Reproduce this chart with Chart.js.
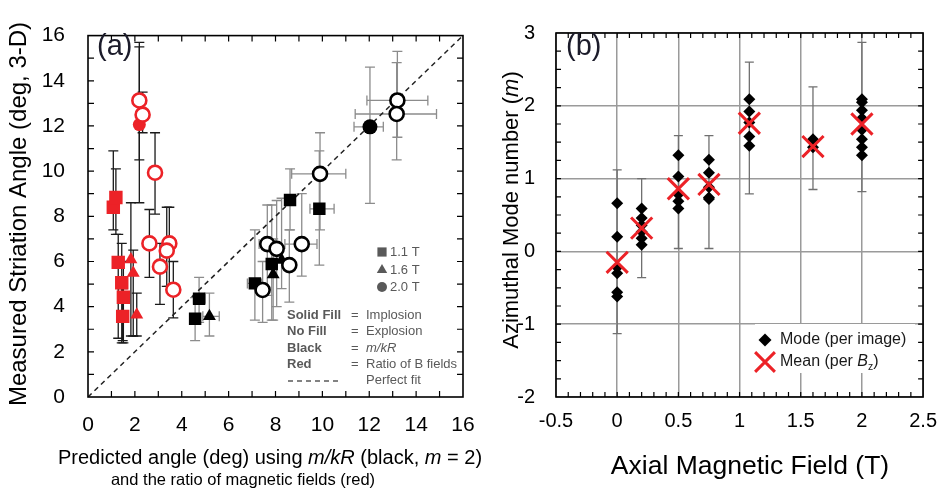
<!DOCTYPE html>
<html>
<head>
<meta charset="utf-8">
<script src="https://cdn.jsdelivr.net/npm/chart.js@4.4.1/dist/chart.umd.min.js"></script>
<style>
  html, body { margin: 0; padding: 0; background: #fff; }
  #wrap { position: relative; width: 949px; height: 491px; }
  #chartA { position: absolute; left: 0; top: 0; }
  #chartB { position: absolute; left: 480px; top: 0; }
</style>
</head>
<body>
<div id="wrap">
  <canvas id="chartA" width="495" height="491"></canvas>
  <canvas id="chartB" width="469" height="491"></canvas>
</div>
<script>
// ---- panel (a): measured vs predicted striation angle (deg) ----
// red = ratio of B fields, black = m/kR ; filled = implosion, open = explosion
const redSquares = [
  { x: 1.08, y: 8.40, yMin: 7.4, yMax: 10.9 },
  { x: 1.19, y: 8.83, yMin: 7.2, yMax: 10.1 },
  { x: 1.29, y: 5.96, yMin: 2.6, yMax: 7.2 },
  { x: 1.44, y: 5.06, yMin: 2.4, yMax: 6.8 },
  { x: 1.51, y: 4.42, yMin: 2.4, yMax: 6.0 },
  { x: 1.48, y: 3.57, yMin: 2.5, yMax: 4.8 }
];
const redTriangles = [
  { x: 1.83, y: 6.09, yMin: 2.7, yMax: 8.6 },
  { x: 1.93, y: 5.49, yMin: 2.7, yMax: 6.5 },
  { x: 2.08, y: 3.64, yMin: 2.7, yMax: 4.6 }
];
const redCirclesFilled = [
  { x: 2.19, y: 12.06, yMin: 8.6, yMax: 15.7 }
];
const redCirclesOpen = [
  { x: 2.19, y: 13.13, yMin: 10.5, yMax: 15.5 },
  { x: 2.33, y: 12.50, yMin: 11.7, yMax: 13.5 },
  { x: 2.86, y: 9.93, yMin: 8.1, yMax: 11.7 },
  { x: 2.62, y: 6.80, yMin: 5.3, yMax: 8.3 },
  { x: 3.47, y: 6.80, yMin: 4.9, yMax: 8.4, xMin: 3.3, xMax: 3.7 },
  { x: 3.36, y: 6.48, yMin: 4.9, yMax: 8.4 },
  { x: 3.07, y: 5.77, yMin: 4.1, yMax: 6.8 },
  { x: 3.64, y: 4.75, yMin: 3.5, yMax: 6.0, xMin: 3.45, xMax: 3.85 }
];
const blackSquares = [
  { x: 4.74, y: 4.35, yMin: 3.3, yMax: 5.3, xMin: 4.5, xMax: 5.0 },
  { x: 4.57, y: 3.46, yMin: 2.5, yMax: 4.4 },
  { x: 7.12, y: 5.03, yMin: 3.4, yMax: 7.4, xMin: 6.8, xMax: 7.4 },
  { x: 7.84, y: 5.89, yMin: 3.4, yMax: 8.5 },
  { x: 8.62, y: 8.72, yMin: 7.4, yMax: 10.1 },
  { x: 9.87, y: 8.33, yMin: 5.84, yMax: 10.9, xMin: 9.47, xMax: 10.5 }
];
const blackTriangles = [
  { x: 5.18, y: 3.57, yMin: 2.7, yMax: 4.6, xMin: 4.9, xMax: 5.6 },
  { x: 7.90, y: 5.42, yMin: 3.4, yMax: 7.0 },
  { x: 8.26, y: 6.06, yMin: 4.8, yMax: 8.8 }
];
const blackCirclesFilled = [
  { x: 12.03, y: 11.96, yMin: 8.57, yMax: 14.6, xMin: 11.35, xMax: 12.6 }
];
const blackCirclesOpen = [
  { x: 7.45, y: 4.74, yMin: 3.3, yMax: 6.0 },
  { x: 7.65, y: 6.77, yMin: 4.5, yMax: 8.5, xMin: 7.3, xMax: 8.0 },
  { x: 8.05, y: 6.56, yMin: 4.0, yMax: 8.7 },
  { x: 8.59, y: 5.84, yMin: 4.2, yMax: 7.4 },
  { x: 9.12, y: 6.77, yMin: 5.35, yMax: 9.0, xMin: 8.4, xMax: 9.77 },
  { x: 9.90, y: 9.88, yMin: 7.4, yMax: 11.7, xMin: 8.69, xMax: 11.0 },
  { x: 13.20, y: 13.13, yMin: 11.5, yMax: 15.3, xMin: 11.9, xMax: 14.5 },
  { x: 13.17, y: 12.53, yMin: 10.5, yMax: 14.8, xMin: 11.4, xMax: 14.87 }
];
const perfectFitX = [0, 16];
const perfectFitY = [0, 16];

// ---- panel (b): azimuthal mode number vs axial field (T) ----
const fieldT = [0, 0.2, 0.5, 0.75, 1.08, 1.6, 2.0];
const modeByField = [
  [0.66, 0.2, -0.22, -0.3, -0.56, -0.62],
  [0.59, 0.46, 0.36, 0.27, 0.18, 0.09],
  [1.32, 1.03, 0.78, 0.69, 0.59],
  [1.26, 1.08, 0.88, 0.74, 0.72],
  [2.09, 1.92, 1.77, 1.58, 1.45],
  [1.54, 1.43],
  [2.09, 2.05, 1.94, 1.83, 1.67, 1.54, 1.43, 1.32]
];
const meanMode = [-0.15, 0.32, 0.86, 0.92, 1.76, 1.44, 1.75];
const meanLow = [-1.13, -0.36, 0.04, 0.04, 0.79, 0.85, 0.82];
const meanHigh = [1.12, 1.0, 1.59, 1.59, 2.6, 2.26, 2.87];

const FONT = '"Liberation Sans", Arial, sans-serif';
const RED = '#ec2227';

// error bars drawn under the markers
const errorBars = {
  id: 'errorBars',
  beforeDatasetsDraw(chart) {
    const { ctx, scales: { x, y } } = chart;
    ctx.save();
    chart.data.datasets.forEach(ds => {
      if (!ds.errColor) return;
      ctx.strokeStyle = ds.errColor;
      ctx.lineWidth = ds.errWidth || 1.2;
      const cap = ds.errCap || 5;
      ds.data.forEach(p => {
        const px = x.getPixelForValue(p.x), py = y.getPixelForValue(p.y);
        ctx.beginPath();
        if (p.yMin != null) {
          const y1 = y.getPixelForValue(p.yMin), y2 = y.getPixelForValue(p.yMax);
          ctx.moveTo(px, y1); ctx.lineTo(px, y2);
          ctx.moveTo(px - cap, y1); ctx.lineTo(px + cap, y1);
          ctx.moveTo(px - cap, y2); ctx.lineTo(px + cap, y2);
        }
        if (p.xMin != null) {
          const x1 = x.getPixelForValue(p.xMin), x2 = x.getPixelForValue(p.xMax);
          ctx.moveTo(x1, py); ctx.lineTo(x2, py);
          ctx.moveTo(x1, py - cap); ctx.lineTo(x1, py + cap);
          ctx.moveTo(x2, py - cap); ctx.lineTo(x2, py + cap);
        }
        ctx.stroke();
      });
    });
    ctx.restore();
  }
};

// inward ticks on all four sides + frame
const innerTicks = {
  id: 'innerTicks',
  afterDraw(chart, args, opts) {
    const { ctx, chartArea: a, scales: { x, y } } = chart;
    ctx.save();
    ctx.strokeStyle = '#000';
    ctx.lineWidth = 1.2;
    ctx.beginPath();
    const nx = Math.round((x.max - x.min) / opts.xStep);
    for (let i = 1; i < nx; i++) {
      const px = x.getPixelForValue(x.min + i * opts.xStep);
      ctx.moveTo(px, a.bottom); ctx.lineTo(px, a.bottom - opts.len);
      ctx.moveTo(px, a.top); ctx.lineTo(px, a.top + opts.len);
    }
    const ny = Math.round((y.max - y.min) / opts.yStep);
    for (let i = 1; i < ny; i++) {
      const py = y.getPixelForValue(y.min + i * opts.yStep);
      ctx.moveTo(a.left, py); ctx.lineTo(a.left + opts.len, py);
      ctx.moveTo(a.right, py); ctx.lineTo(a.right - opts.len, py);
    }
    ctx.stroke();
    ctx.lineWidth = 1.6;
    ctx.strokeRect(a.left, a.top, a.right - a.left, a.bottom - a.top);
    ctx.restore();
  }
};

// text with italic / subscript runs: parts = [[text, style]]
function drawRich(ctx, parts, x, y, size, align, weight) {
  const w = weight ? weight + ' ' : '';
  const fontOf = s => (s === 'i' ? 'italic ' : '') + w + (s === 'sub' ? size * 0.65 : size) + 'px ' + FONT;
  let total = 0;
  parts.forEach(p => { ctx.font = fontOf(p[1]); total += ctx.measureText(p[0]).width; });
  let cx = align === 'center' ? x - total / 2 : x;
  ctx.textAlign = 'left';
  ctx.textBaseline = 'middle';
  parts.forEach(p => {
    ctx.font = fontOf(p[1]);
    ctx.fillText(p[0], cx, p[1] === 'sub' ? y + size * 0.3 : y);
    cx += ctx.measureText(p[0]).width;
  });
}

const textA = {
  id: 'textA',
  afterDraw(chart) {
    const ctx = chart.ctx;
    ctx.save();
    ctx.fillStyle = '#000';
    // axis titles
    ctx.save();
    ctx.translate(19, 214);
    ctx.rotate(-Math.PI / 2);
    drawRich(ctx, [['Measured Striation Angle (deg, 3-D)']], 0, 0, 24, 'center');
    ctx.restore();
    drawRich(ctx, [['Predicted angle (deg) using '], ['m/kR', 'i'], [' (black, '], ['m', 'i'], [' = 2)']], 270, 458, 20, 'center');
    drawRich(ctx, [['and the ratio of magnetic fields (red)']], 243, 480, 16.5, 'center');
    // panel letter
    ctx.fillStyle = '#1b1b2a';
    drawRich(ctx, [['(a)']], 97, 47, 29, 'left');

    // legend
    const grey = '#595959';
    ctx.fillStyle = grey;
    ctx.strokeStyle = grey;
    const H = Chart.helpers;
    H.drawPoint(ctx, { pointStyle: 'rect', radius: 6.5, borderWidth: 0 }, 382, 252);
    H.drawPoint(ctx, { pointStyle: 'triangle', radius: 6, borderWidth: 0 }, 382, 270);
    H.drawPoint(ctx, { pointStyle: 'circle', radius: 5, borderWidth: 0 }, 382, 287);
    drawRich(ctx, [['1.1 T']], 390, 252, 13, 'left');
    drawRich(ctx, [['1.6 T']], 390, 270, 13, 'left');
    drawRich(ctx, [['2.0 T']], 390, 287, 13, 'left');
    const rows = [
      ['Solid Fill', [['Implosion']], 315],
      ['No Fill', [['Explosion']], 331],
      ['Black', [['m/kR', 'i']], 348],
      ['Red', [['Ratio of B fields']], 364]
    ];
    rows.forEach(r => {
      drawRich(ctx, [[r[0]]], 287, r[2], 13, 'left', 'bold');
      drawRich(ctx, [['=']], 351, r[2], 13, 'left');
      drawRich(ctx, r[1], 366, r[2], 13, 'left');
    });
    ctx.setLineDash([5, 4]);
    ctx.lineWidth = 1.6;
    ctx.beginPath();
    ctx.moveTo(288, 381); ctx.lineTo(340, 381);
    ctx.stroke();
    ctx.setLineDash([]);
    drawRich(ctx, [['Perfect fit']], 366, 380, 13, 'left');
    ctx.restore();
  }
};

const textB = {
  id: 'textB',
  afterDraw(chart) {
    const ctx = chart.ctx;
    ctx.save();
    ctx.fillStyle = '#000';
    ctx.save();
    ctx.translate(32, 210);
    ctx.rotate(-Math.PI / 2);
    drawRich(ctx, [['Azimuthal Mode number ('], ['m', 'i'], [')']], 0, 0, 22, 'center');
    ctx.restore();
    drawRich(ctx, [['Axial Magnetic Field (T)']], 270, 467, 26.5, 'center');
    ctx.fillStyle = '#1b1b2a';
    drawRich(ctx, [['(b)']], 86, 47, 29, 'left');

    // legend box
    ctx.fillStyle = '#fff';
    ctx.fillRect(275, 324, 160, 49);
    const H = Chart.helpers;
    ctx.fillStyle = '#000';
    H.drawPoint(ctx, { pointStyle: 'rectRot', radius: 6.5, borderWidth: 0 }, 285, 340);
    ctx.strokeStyle = RED;
    ctx.lineWidth = 3;
    H.drawPoint(ctx, { pointStyle: 'crossRot', radius: 14, borderWidth: 3 }, 285, 362);
    ctx.fillStyle = '#1a1a1a';
    drawRich(ctx, [['Mode (per image)']], 300, 340, 16, 'left');
    drawRich(ctx, [['Mean (per '], ['B', 'i'], ['z', 'sub'], [')']], 300, 362, 16, 'left');
    ctx.restore();
  }
};

const errA = { errColor: '#1a1a1a', errWidth: 1.3, errCap: 5 };
const errK = { errColor: '#8c8c8c', errWidth: 1.3, errCap: 5 };

new Chart(document.getElementById('chartA'), {
  type: 'scatter',
  data: {
    datasets: [
      { data: redCirclesOpen, pointStyle: 'circle', radius: 7, backgroundColor: '#fff', borderColor: RED, borderWidth: 2.6, ...errA },
      { data: redCirclesFilled, pointStyle: 'circle', radius: 6.5, backgroundColor: RED, borderColor: RED, borderWidth: 0, ...errA },
      { data: redTriangles, pointStyle: 'triangle', radius: 7.5, backgroundColor: RED, borderColor: RED, borderWidth: 0, ...errA },
      { data: redSquares, pointStyle: 'rect', radius: 9.5, backgroundColor: RED, borderColor: RED, borderWidth: 0, ...errA },
      { data: blackCirclesOpen, pointStyle: 'circle', radius: 7, backgroundColor: '#fff', borderColor: '#000', borderWidth: 2.6, ...errK },
      { data: blackCirclesFilled, pointStyle: 'circle', radius: 7.5, backgroundColor: '#000', borderWidth: 0, ...errK },
      { data: blackTriangles, pointStyle: 'triangle', radius: 7.5, backgroundColor: '#000', borderWidth: 0, ...errK },
      { data: blackSquares, pointStyle: 'rect', radius: 8.8, backgroundColor: '#000', borderWidth: 0, ...errK },
      {
        data: perfectFitX.map((v, i) => ({ x: v, y: perfectFitY[i] })),
        showLine: true, borderColor: '#222', borderWidth: 1.5, borderDash: [5, 4], pointRadius: 0
      }
    ]
  },
  options: {
    responsive: false,
    animation: false,
    layout: { padding: { left: 0, right: 32, top: 22, bottom: 0 } },
    plugins: {
      legend: { display: false },
      tooltip: { enabled: false },
      innerTicks: { xStep: 1, yStep: 1, len: 6 }
    },
    scales: {
      x: {
        type: 'linear', min: 0, max: 16,
        afterFit: s => { s.height = 94; },
        grid: { display: false, drawTicks: false },
        border: { display: false },
        ticks: { stepSize: 2, padding: 16, color: '#000', font: { family: FONT, size: 21 } }
      },
      y: {
        type: 'linear', min: 0, max: 16,
        afterFit: s => { s.width = 88; },
        grid: { display: false, drawTicks: false },
        border: { display: false },
        ticks: { stepSize: 2, padding: 23, color: '#000', font: { family: FONT, size: 21 } }
      }
    }
  },
  plugins: [errorBars, innerTicks, textA]
});

new Chart(document.getElementById('chartB'), {
  type: 'scatter',
  data: {
    datasets: [
      {
        data: fieldT.map((f, i) => ({ x: f, y: meanMode[i], yMin: meanLow[i], yMax: meanHigh[i] })),
        pointStyle: 'crossRot', radius: 15, borderColor: RED, borderWidth: 3,
        errColor: '#707070', errWidth: 1.3, errCap: 4.5
      },
      {
        data: fieldT.flatMap((f, i) => modeByField[i].map(v => ({ x: f, y: v }))),
        pointStyle: 'rectRot', radius: 6, backgroundColor: '#000', borderWidth: 0
      }
    ]
  },
  options: {
    responsive: false,
    animation: false,
    layout: { padding: { left: 0, right: 17, top: 22, bottom: 0 } },
    plugins: {
      legend: { display: false },
      tooltip: { enabled: false },
      innerTicks: { xStep: 0.1, yStep: 0.25, len: 5 }
    },
    scales: {
      x: {
        type: 'linear', min: -0.5, max: 2.5,
        afterFit: s => { s.height = 94; },
        grid: { color: '#9a9a9a', lineWidth: 1.5, drawTicks: false },
        border: { display: false },
        ticks: { stepSize: 0.5, padding: 12, color: '#000', font: { family: FONT, size: 20 }, callback: v => String(v) }
      },
      y: {
        type: 'linear', min: -2, max: 3,
        afterFit: s => { s.width = 76; },
        grid: { color: '#9a9a9a', lineWidth: 1.5, drawTicks: false },
        border: { display: false },
        ticks: { stepSize: 1, padding: 21, color: '#000', font: { family: FONT, size: 20 } }
      }
    }
  },
  plugins: [errorBars, innerTicks, textB]
});
</script>
</body>
</html>
